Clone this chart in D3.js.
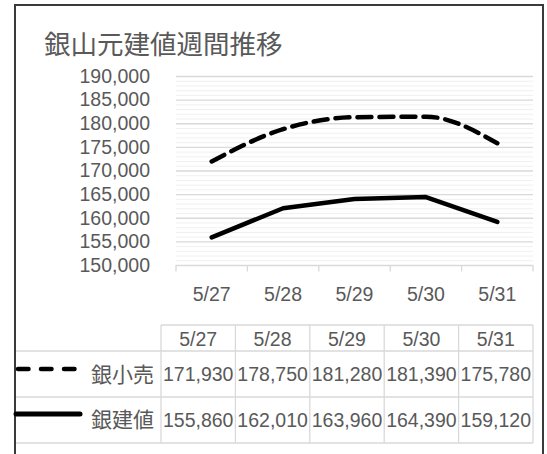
<!DOCTYPE html>
<html>
<head>
<meta charset="utf-8">
<script src="https://cdn.jsdelivr.net/npm/d3@7"></script>
<style>
html,body{margin:0;padding:0;background:#fff;}
svg{display:block;}
text{font-family:"Liberation Sans",Arial,"Noto Sans CJK JP",sans-serif;fill:#595959;}
.cjk{font-family:"Noto Sans CJK JP","Liberation Sans",sans-serif;}
</style>
</head>
<body>
<script>
const title = "銀山元建値週間推移";
const dates = ["5/27","5/28","5/29","5/30","5/31"];
const retailName = "銀小売";
const retail = [171930,178750,181280,181390,175780];
const buildName = "銀建値";
const build = [155860,162010,163960,164390,159120];
const yMin = 150000, yMax = 190000, yMajor = 5000, yMinor = 1000;

const W = 547, H = 454;
const svg = d3.select("body").append("svg").attr("width", W).attr("height", H);

// outer frame
svg.append("rect").attr("x",15).attr("y",5).attr("width",528).attr("height",470)
  .attr("fill","#fff").attr("stroke","#3a3a3a").attr("stroke-width",2);

svg.append("text").attr("class","cjk").attr("x",44).attr("y",42)
  .attr("dominant-baseline","central").attr("font-size",26.5).text(title);

const x = d3.scaleBand().domain(dates).range([176,533]).padding(0);
const y = d3.scaleLinear().domain([yMin,yMax]).range([265,76]);

// minor gridlines
const minorVals = d3.range(yMin, yMax + 1, yMinor).filter(v => v % yMajor !== 0);
svg.append("g").selectAll("line").data(minorVals).join("line")
  .attr("x1",176).attr("x2",533).attr("y1",d=>y(d)+0.5).attr("y2",d=>y(d)+0.5)
  .attr("stroke","#f0f0f0").attr("stroke-width",1);
const majorVals = d3.range(yMin + yMajor, yMax + 1, yMajor);
svg.append("g").selectAll("line").data(majorVals).join("line")
  .attr("x1",176).attr("x2",533).attr("y1",d=>y(d)+0.5).attr("y2",d=>y(d)+0.5)
  .attr("stroke","#d9d9d9").attr("stroke-width",1.3);

// x axis line + ticks at band boundaries
svg.append("line").attr("x1",176).attr("x2",533).attr("y1",y(yMin)+0.5).attr("y2",y(yMin)+0.5)
  .attr("stroke","#d9d9d9").attr("stroke-width",1.3);
const bounds = dates.map(d=>x(d)).concat([x.range()[1]]);
svg.append("g").selectAll("line").data(bounds).join("line")
  .attr("x1",d=>d).attr("x2",d=>d).attr("y1",y(yMin)).attr("y2",y(yMin)+6.5)
  .attr("stroke","#d9d9d9").attr("stroke-width",1.3);

// y axis labels
const yAxis = d3.axisLeft(y).tickValues(d3.range(yMin,yMax+1,yMajor))
  .tickFormat(d3.format(",")).tickSize(0).tickPadding(26);
const gy = svg.append("g").attr("transform","translate(176,0)").call(yAxis);
gy.select(".domain").remove();
gy.selectAll("text").attr("font-size",19.5).attr("fill","#595959")
  .style("font-family",'"Liberation Sans",Arial,sans-serif');

// x labels
svg.append("g").selectAll("text").data(dates).join("text")
  .attr("x",d=>x(d)+x.bandwidth()/2).attr("y",294).attr("text-anchor","middle")
  .attr("dominant-baseline","central").attr("font-size",19.5).text(d=>d);

// lines
const pts = vals => vals.map((v,i)=>[x(dates[i])+x.bandwidth()/2, y(v)]);
svg.append("path").attr("d", d3.line().curve(d3.curveMonotoneX)(pts(retail)))
  .attr("fill","none").attr("stroke","#000").attr("stroke-width",4.5)
  .attr("stroke-linecap","round").attr("stroke-dasharray","14,8");
svg.append("path").attr("d", d3.line()(pts(build)))
  .attr("fill","none").attr("stroke","#000").attr("stroke-width",4.5)
  .attr("stroke-linecap","round").attr("stroke-linejoin","round");

// data table
const tx = d3.scaleBand().domain(dates).range([161,533]).padding(0);
const rowY = [325,351,397,443];
const tc = "#d9d9d9";
const tg = svg.append("g");
tg.append("line").attr("x1",161).attr("x2",533).attr("y1",rowY[0]).attr("y2",rowY[0]).attr("stroke",tc).attr("stroke-width",1.3);
[rowY[1],rowY[2],rowY[3]].forEach(yy=>{
  tg.append("line").attr("x1",16).attr("x2",533).attr("y1",yy).attr("y2",yy).attr("stroke",tc).attr("stroke-width",1.3);
});
bounds.forEach((b,i)=>{
  const xx = tx.range()[0] + i*tx.bandwidth();
  tg.append("line").attr("x1",xx).attr("x2",xx).attr("y1",rowY[0]).attr("y2",rowY[3]).attr("stroke",tc).attr("stroke-width",1.3);
});
tg.selectAll("text.h").data(dates).join("text").attr("class","h")
  .attr("x",d=>tx(d)+tx.bandwidth()/2).attr("y",(rowY[0]+rowY[1])/2+1)
  .attr("text-anchor","middle").attr("dominant-baseline","central").attr("font-size",19.5).text(d=>d);
const fmt = d3.format(",");
[[retail,1],[build,2]].forEach(([vals,r])=>{
  tg.selectAll("text.r"+r).data(vals).join("text").attr("class","r"+r)
    .attr("x",(d,i)=>tx(dates[i])+tx.bandwidth()/2).attr("y",(rowY[r]+rowY[r+1])/2)
    .attr("text-anchor","middle").attr("dominant-baseline","central").attr("font-size",19.5).text(d=>fmt(d));
});
// legend keys
tg.append("text").attr("class","cjk").attr("x",154).attr("y",373).attr("text-anchor","end")
  .attr("dominant-baseline","central").attr("font-size",21).text(retailName);
tg.append("text").attr("class","cjk").attr("x",154).attr("y",418).attr("text-anchor","end")
  .attr("dominant-baseline","central").attr("font-size",21).text(buildName);
tg.append("line").attr("x1",18).attr("x2",76).attr("y1",369).attr("y2",369)
  .attr("stroke","#000").attr("stroke-width",4.5).attr("stroke-linecap","round").attr("stroke-dasharray","10.5,12.5");
tg.append("line").attr("x1",16).attr("x2",80).attr("y1",414).attr("y2",414)
  .attr("stroke","#000").attr("stroke-width",5).attr("stroke-linecap","round");
</script>
</body>
</html>
